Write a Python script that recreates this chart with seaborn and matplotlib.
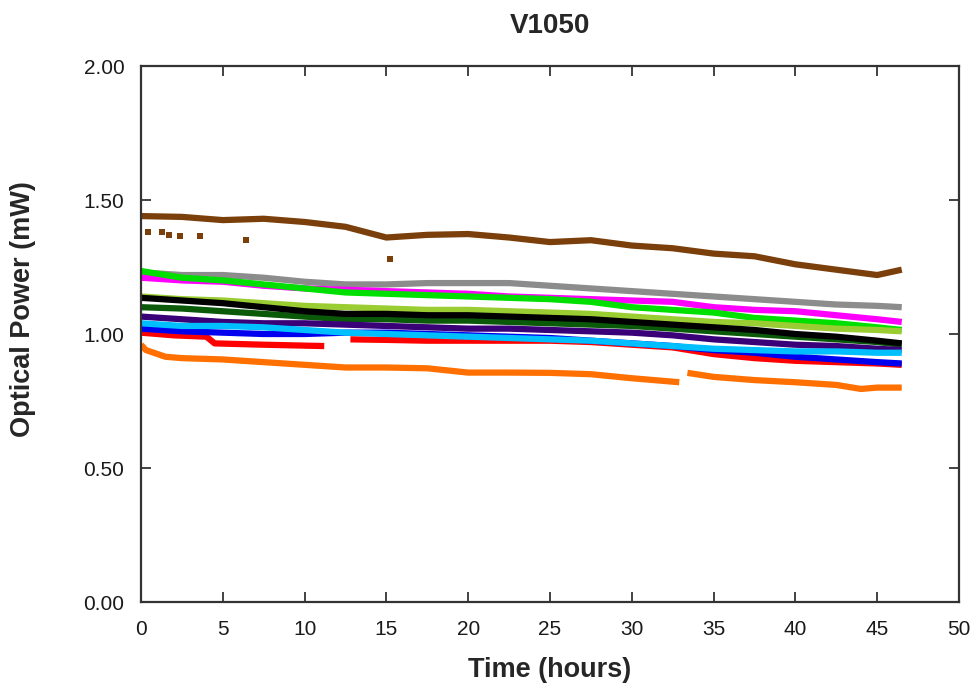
import matplotlib
matplotlib.use("Agg")
import matplotlib.pyplot as plt
import seaborn as sns
import pandas as pd
import numpy as np

# ---- data ----
t_grid = [0, 2.5, 5, 7.5, 10, 12.5, 15, 17.5, 20, 22.5, 25, 27.5, 30, 32.5, 35, 37.5, 40, 42.5, 45, 46.5]

brown = [1.44, 1.437, 1.425, 1.43, 1.418, 1.40, 1.36, 1.37, 1.373, 1.36, 1.343, 1.35, 1.33, 1.32, 1.30, 1.29, 1.26, 1.24, 1.22, 1.24]
gray = [1.23, 1.22, 1.22, 1.21, 1.195, 1.185, 1.185, 1.19, 1.19, 1.19, 1.18, 1.17, 1.16, 1.15, 1.14, 1.13, 1.12, 1.11, 1.105, 1.10]
magenta = [1.21, 1.20, 1.195, 1.18, 1.17, 1.165, 1.16, 1.155, 1.15, 1.14, 1.135, 1.13, 1.125, 1.12, 1.10, 1.09, 1.085, 1.07, 1.055, 1.045]
green = [1.235, 1.21, 1.20, 1.185, 1.17, 1.155, 1.15, 1.145, 1.14, 1.135, 1.13, 1.12, 1.10, 1.09, 1.08, 1.06, 1.05, 1.04, 1.025, 1.015]
yellowgreen = [1.14, 1.13, 1.125, 1.115, 1.105, 1.10, 1.095, 1.09, 1.09, 1.085, 1.08, 1.075, 1.065, 1.055, 1.045, 1.04, 1.03, 1.02, 1.015, 1.01]
darkgreen = [1.10, 1.095, 1.085, 1.075, 1.065, 1.055, 1.055, 1.05, 1.05, 1.045, 1.04, 1.035, 1.03, 1.02, 1.01, 1.00, 0.99, 0.98, 0.97, 0.96]
black = [1.135, 1.125, 1.115, 1.10, 1.085, 1.075, 1.075, 1.07, 1.07, 1.065, 1.06, 1.055, 1.045, 1.035, 1.025, 1.015, 1.00, 0.99, 0.975, 0.965]
indigo = [1.065, 1.055, 1.045, 1.04, 1.04, 1.035, 1.03, 1.025, 1.02, 1.02, 1.015, 1.01, 1.005, 0.995, 0.98, 0.97, 0.96, 0.955, 0.945, 0.94]
blue = [1.02, 1.01, 1.005, 1.00, 1.00, 1.005, 1.005, 1.00, 0.995, 0.99, 0.985, 0.975, 0.965, 0.955, 0.94, 0.93, 0.915, 0.905, 0.895, 0.89]
cyan = [1.04, 1.03, 1.03, 1.025, 1.015, 1.005, 1.00, 0.995, 0.99, 0.985, 0.98, 0.975, 0.965, 0.955, 0.945, 0.94, 0.935, 0.935, 0.93, 0.93]

red_t1 = [0, 2, 4, 4.5, 7.5, 11.2]
red_y1 = [1.005, 0.995, 0.99, 0.965, 0.96, 0.955]
red_t2 = [12.8, 15, 17.5, 20, 22.5, 25, 27.5, 30, 32.5, 35, 37.5, 40, 42.5, 45, 46.5]
red_y2 = [0.98, 0.978, 0.975, 0.975, 0.975, 0.975, 0.97, 0.96, 0.95, 0.925, 0.91, 0.90, 0.895, 0.89, 0.885]

orange_t1 = [0, 0.3, 1.5, 2.5, 5, 7.5, 10, 12.5, 15, 17.5, 20, 22.5, 25, 27.5, 30, 32.9]
orange_y1 = [0.96, 0.94, 0.915, 0.91, 0.905, 0.895, 0.885, 0.875, 0.875, 0.872, 0.856, 0.856, 0.855, 0.85, 0.835, 0.82]
orange_t2 = [33.4, 35, 37.5, 40, 42.5, 44, 45, 46.5]
orange_y2 = [0.855, 0.84, 0.828, 0.82, 0.81, 0.795, 0.80, 0.80]

brown_out_t = [0.4, 1.3, 1.7, 2.4, 3.6, 6.4, 15.2]
brown_out_y = [1.38, 1.38, 1.37, 1.366, 1.366, 1.35, 1.28]

x_ticks = [0, 5, 10, 15, 20, 25, 30, 35, 40, 45, 50]
y_ticks = [0.0, 0.5, 1.0, 1.5, 2.0]

# ---- style ----
sns.set_theme(style="ticks")
plt.rcParams['font.family'] = ['Liberation Sans', 'DejaVu Sans']

fig = plt.figure(figsize=(9.76, 6.9), dpi=100)
ax = fig.add_axes([141/976, 1-602/690, (959-141)/976, (602-66)/690])

series = [
    ("brown", t_grid, brown, "#7a3f0a"),
    ("gray", t_grid, gray, "#8c8c8c"),
    ("magenta", t_grid, magenta, "#ff00ff"),
    ("green", t_grid, green, "#00e000"),
    ("yellowgreen", t_grid, yellowgreen, "#9acd32"),
    ("darkgreen", t_grid, darkgreen, "#0a5a0a"),
    ("black", t_grid, black, "#000000"),
    ("indigo", t_grid, indigo, "#3a0078"),
    ("red1", red_t1, red_y1, "#ff0000"),
    ("red2", red_t2, red_y2, "#ff0000"),
    ("blue", t_grid, blue, "#0000ee"),
    ("cyan", t_grid, cyan, "#00bfff"),
    ("orange1", orange_t1, orange_y1, "#ff7000"),
    ("orange2", orange_t2, orange_y2, "#ff7000"),
]

for name, tx, ty, col in series:
    df = pd.DataFrame({"t": tx, "p": ty})
    sns.lineplot(data=df, x="t", y="p", color=col, linewidth=4.5, ax=ax,
                 sort=False, estimator=None, solid_capstyle="butt")

sns.scatterplot(x=brown_out_t, y=brown_out_y, color="#7a3f0a", s=16, marker="s",
                linewidth=0, ax=ax)

ax.set_xlim(0, 50)
ax.set_ylim(0, 2.0)
ax.set_xticks(x_ticks)
ax.set_yticks(y_ticks)
ax.set_xticklabels([str(v) for v in x_ticks])
ax.set_yticklabels([f"{v:.2f}" for v in y_ticks])
ax.tick_params(direction="in", length=7, width=1.2, colors="#222222",
               top=True, right=True, labelsize=15, labelcolor="#1a1a1a")
ax.tick_params(axis="x", pad=13)
ax.tick_params(axis="y", pad=12)
for sp in ax.spines.values():
    sp.set_visible(True)
    sp.set_linewidth(1.6)
    sp.set_color("#333333")

ax.set_xlabel("Time (hours)", fontsize=19.5, fontweight="bold", labelpad=13)
ax.set_ylabel("Optical Power (mW)", fontsize=19.5, fontweight="bold")
ax.yaxis.set_label_coords(-0.128, 0.547)
ax.set_title("V1050", fontsize=20, fontweight="bold", pad=24)

fig.savefig("out.png", dpi=100, facecolor="white")
